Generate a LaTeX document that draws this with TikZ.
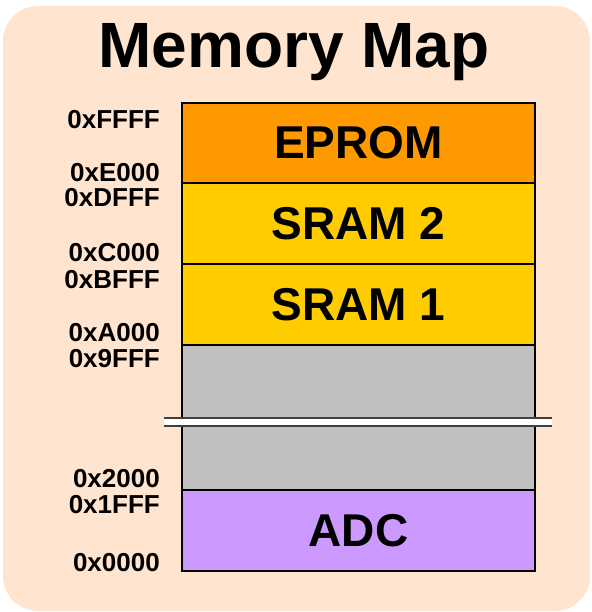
\documentclass[tikz,border=0pt]{standalone}
\usepackage{fontspec}
\setmainfont{Liberation Sans}
\usetikzlibrary{positioning}
\definecolor{mapbg}{HTML}{FFE5CF}
\definecolor{epromcol}{HTML}{FF9900}
\definecolor{sramcol}{HTML}{FFCC00}
\definecolor{freecol}{HTML}{C0C0C0}
\definecolor{adccol}{HTML}{CC99FF}
\tikzset{
	block/.style={draw, line width=1.5pt, minimum width=353pt, inner sep=0pt, outer sep=0pt, font=\bfseries\fontsize{46}{46}\selectfont},
	addr/.style={anchor=east, inner sep=0pt, font=\bfseries\fontsize{26}{26}\selectfont},
	breakline/.style={line width=1.2pt, color=black!75},
}

\begin{document}
\begin{tikzpicture}[x=1pt,y=-1pt]
			%%%%% START %%%%%
			\useasboundingbox (0,0) rectangle (591,612);
			\fill[mapbg, rounded corners=35pt] (3,6) rectangle (590,611);
			
			\node (title) at (294,52) {\bfseries\fontsize{64}{64}\selectfont Memory Map};
			
			\node[block, fill=epromcol, minimum height=80pt] (eprom) at (358.5,143) {EPROM};
			\node[block, fill=sramcol, minimum height=81pt, below=0pt of eprom] (sram2) {SRAM 2};
			\node[block, fill=sramcol, minimum height=81pt, below=0pt of sram2] (sram1) {SRAM 1};
			\node[block, fill=freecol, minimum height=145pt, below=0pt of sram1] (free) {};
			\node[block, fill=adccol, minimum height=81pt, below=0pt of free] (adc) {ADC};
			
			\fill[white] (164,418) rectangle (552,426);
			\draw[breakline] (164,418) -- (552,418);
			\draw[breakline] (164,426) -- (552,426);
			
			\node[addr] (aFFFF) at (160,120) {0xFFFF};
			\node[addr] (aE000) at (160,173) {0xE000};
			\node[addr] (aDFFF) at (160,198) {0xDFFF};
			\node[addr] (aC000) at (160,253) {0xC000};
			\node[addr] (aBFFF) at (160,279.5) {0xBFFF};
			\node[addr] (aA000) at (160,333) {0xA000};
			\node[addr] (a9FFF) at (160,359) {0x9FFF};
			\node[addr] (a2000) at (160,479) {0x2000};
			\node[addr] (a1FFF) at (160,505) {0x1FFF};
			\node[addr] (a0000) at (160,563) {0x0000};
			%%%%% END %%%%%
\end{tikzpicture}
\end{document}
